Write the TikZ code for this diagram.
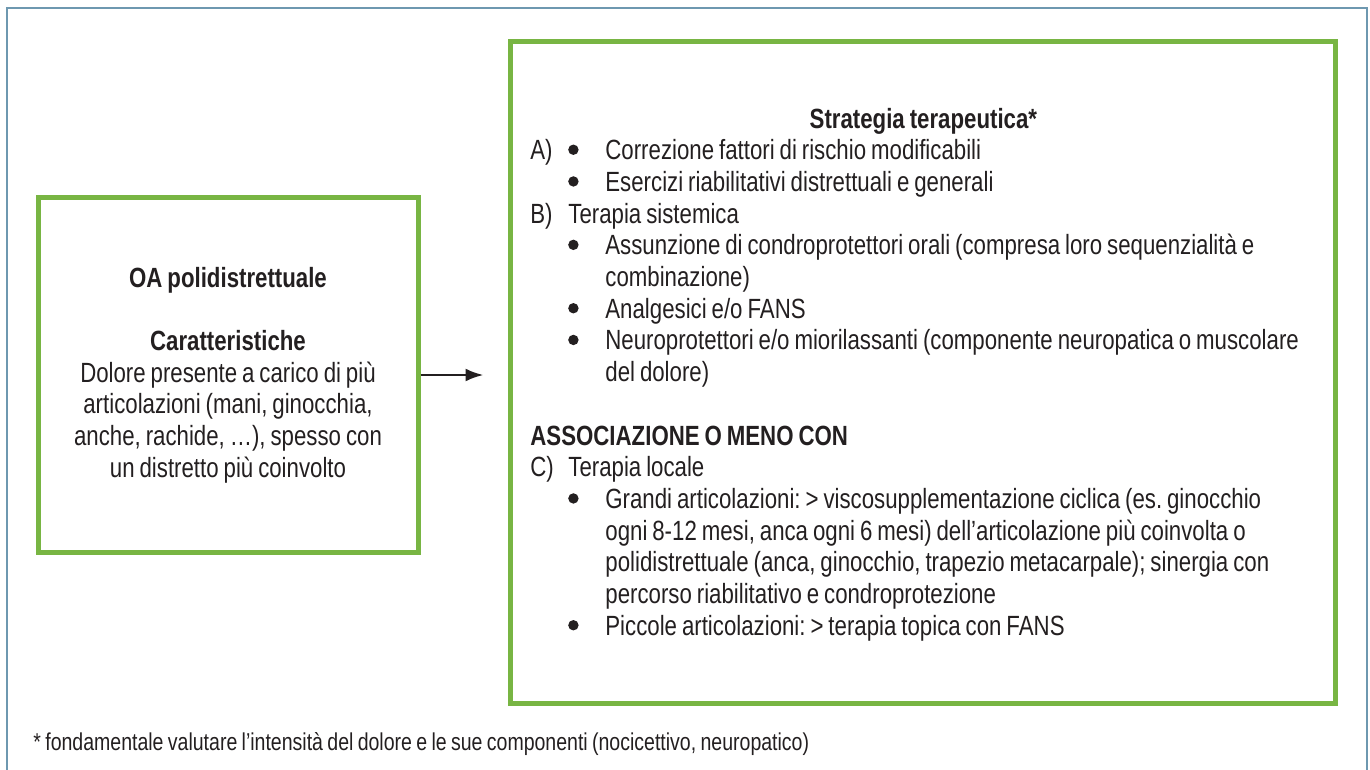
\documentclass[tikz,border=0pt]{standalone}
\usepackage{fontspec}
\setmainfont{Liberation Sans}[FakeStretch=0.8, WordSpace=0.8]
\usetikzlibrary{arrows.meta}
\definecolor{boxgreen}{HTML}{78B543}
\definecolor{framegray}{HTML}{6E98B0}
\definecolor{inkdark}{HTML}{231F20}
\hyphenpenalty=10000
\frenchspacing

% list helpers: label column, bullet column, continuation indent
\newcommand{\bigdot}{\makebox[10pt][c]{\tikz[baseline=-5pt]\fill[inkdark] (0,0) circle (2.6pt);}}
\newcommand{\lab}[1]{\makebox[19pt][l]{#1}}
\newcommand{\labdot}[1]{\makebox[16.5pt][l]{#1}\bigdot\hspace*{11pt}}
\newcommand{\dotitem}{\hspace*{16.5pt}\bigdot\hspace*{11pt}}
\newcommand{\cont}{\hspace*{37.5pt}}

\tikzset{
  greenbox/.style={draw=boxgreen, line width=2.5pt, inner sep=0pt},
  bodytext/.style={text=inkdark, font=\fontsize{13.9pt}{15.85pt}\selectfont},
  arr/.style={-{Latex[length=9pt,width=6.5pt]}, inkdark, line width=1.3pt}
}

\begin{document}
\begin{tikzpicture}[x=0.5pt, y=-0.5pt]
  \def\listw{393pt}   % width of the text block in the right box
  \def\gap{15.85pt}   % one empty line
  \useasboundingbox (0,0) rectangle (1370,770);

  % outer frame, open at the bottom
  \draw[framegray, line width=1pt] (7,770) -- (7,8) -- (1367,8) -- (1367,770);

  % left box
  \node[greenbox, bodytext, align=flush center, text width=170pt, inner sep=10pt,
        minimum width=190pt, minimum height=177.5pt] (oa) at (228,375) {%
    \textbf{OA polidistrettuale}\\[\gap]
    \textbf{Caratteristiche}\\
    Dolore presente a carico di più\\
    articolazioni (mani, ginocchia,\\
    anche, rachide, …), spesso con\\
    un distretto più coinvolto};

  % right box and its text
  \node[greenbox, minimum width=412.5pt, minimum height=330.5pt] (strat) at (922.5,372.5) {};
  \node[bodytext, anchor=north west, inner sep=0pt, align=flush left, text width=405pt] (strattext) at (530,107.5) {%
    \makebox[\listw][c]{\bfseries Strategia terapeutica*}\\
    \labdot{A)}Correzione fattori di rischio modificabili\\
    \dotitem Esercizi riabilitativi distrettuali e generali\\
    \lab{B)}Terapia sistemica\\
    \dotitem Assunzione di condroprotettori orali (compresa loro sequenzialità e\\
    \cont combinazione)\\
    \dotitem Analgesici e/o FANS\\
    \dotitem Neuroprotettori e/o miorilassanti (componente neuropatica o muscolare\\
    \cont del dolore)\\[\gap]
    \textbf{ASSOCIAZIONE O MENO CON}\\
    \lab{C)}Terapia locale\\
    \dotitem Grandi articolazioni: > viscosupplementazione ciclica (es. ginocchio\\
    \cont ogni 8-12 mesi, anca ogni 6 mesi) dell’articolazione più coinvolta o\\
    \cont polidistrettuale (anca, ginocchio, trapezio metacarpale); sinergia con\\
    \cont percorso riabilitativo e condroprotezione\\
    \dotitem Piccole articolazioni: > terapia topica con FANS};

  % connector
  \draw[arr, shorten >=12pt] (oa.east) -- (strat.west |- oa.east);

  % footnote
  \node[anchor=base west, inner sep=0pt, text=inkdark, font=\fontsize{12.2pt}{14pt}\selectfont] (nota) at (33,750)
    {* fondamentale valutare l’intensità del dolore e le sue componenti (nocicettivo, neuropatico)};
\end{tikzpicture}
\end{document}
